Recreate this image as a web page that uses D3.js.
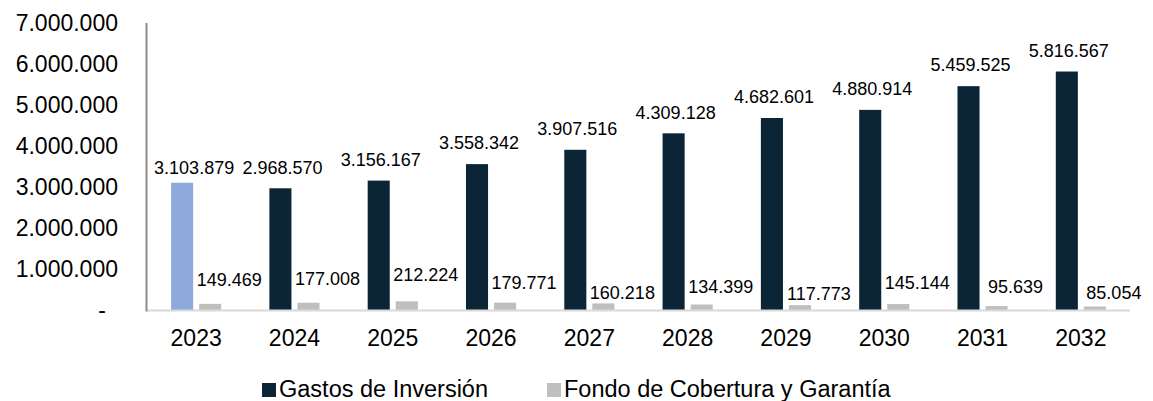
<!DOCTYPE html>
<html>
<head>
<meta charset="utf-8">
<script src="https://cdn.jsdelivr.net/npm/d3@7"></script>
<style>
  html, body { margin: 0; padding: 0; background: #fff; }
  svg { display: block; font-family: "Liberation Sans", Arial, sans-serif; }
</style>
</head>
<body>
<svg id="chart" width="1153" height="401"></svg>
<script>
// Years on the x axis
const years = ["2023", "2024", "2025", "2026", "2027", "2028", "2029", "2030", "2031", "2032"];
// Series values
const gastosInversion = [3103879, 2968570, 3156167, 3558342, 3907516, 4309128, 4682601, 4880914, 5459525, 5816567];
const fondoCobertura = [149469, 177008, 212224, 179771, 160218, 134399, 117773, 145144, 95639, 85054];
// Series names
const seriesNames = ["Gastos de Inversión", "Fondo de Cobertura y Garantía"];
// Y axis ticks
const yTicks = [0, 1000000, 2000000, 3000000, 4000000, 5000000, 6000000, 7000000];

const colors = { dark: "#0b2537", highlight: "#8eaadb", gray: "#bfbfbf" };

const svg = d3.select("#chart");
const plot = { left: 147, right: 1130, top: 23, bottom: 310 };

const fmt = v => v === 0 ? "-" : d3.format(",")(v).replace(/,/g, ".");

const x0 = d3.scaleBand().domain(years).range([plot.left, plot.right])
  .paddingInner(0.49).paddingOuter(0.245);
const x1 = d3.scaleBand().domain(seriesNames).range([0, x0.bandwidth()]).paddingInner(0.214);
const y = d3.scaleLinear().domain([0, 7000000]).range([plot.bottom, plot.top]);

// Y axis tick labels
const yAxis = d3.axisLeft(y).tickValues(yTicks).tickFormat(fmt).tickSize(0).tickPadding(0);
const gy = svg.append("g").attr("transform", `translate(118,0)`).call(yAxis);
gy.select(".domain").remove();
gy.selectAll("text")
  .attr("font-size", 23).attr("fill", "#000")
  .attr("font-family", "Liberation Sans, Arial, sans-serif")
  .attr("dx", d => d === 0 ? -12 : 0);

// X axis year labels
const xAxis = d3.axisBottom(x0).tickSize(0).tickPadding(0);
const gx = svg.append("g").attr("transform", `translate(0,338)`).call(xAxis);
gx.select(".domain").remove();
gx.selectAll("text")
  .attr("font-size", 23).attr("fill", "#000").attr("dy", "0.35em")
  .attr("font-family", "Liberation Sans, Arial, sans-serif");

const rows = years.map((yr, i) => ({ year: yr, i, g: gastosInversion[i], f: fondoCobertura[i] }));

const groups = svg.append("g").selectAll("g").data(rows).join("g")
  .attr("transform", d => `translate(${x0(d.year)},0)`);

// Gastos de Inversión bars (first year highlighted)
groups.append("rect")
  .attr("x", x1(seriesNames[0]))
  .attr("width", x1.bandwidth())
  .attr("y", d => y(d.g))
  .attr("height", d => y(0) - y(d.g))
  .attr("fill", d => d.i === 0 ? colors.highlight : colors.dark);

// Fondo de Cobertura y Garantía bars
groups.append("rect")
  .attr("x", x1(seriesNames[1]))
  .attr("width", x1.bandwidth())
  .attr("y", d => y(d.f))
  .attr("height", d => y(0) - y(d.f))
  .attr("fill", colors.gray);

// Axis lines
svg.append("line").attr("x1", plot.left).attr("x2", plot.right)
  .attr("y1", plot.bottom + 0.5).attr("y2", plot.bottom + 0.5)
  .attr("stroke", "#d9d9d9").attr("stroke-width", 2);
svg.append("line").attr("x1", plot.left - 0.5).attr("x2", plot.left - 0.5)
  .attr("y1", plot.top).attr("y2", plot.bottom + 1.5)
  .attr("stroke", "#8c8c8c").attr("stroke-width", 2);

// Value labels; a few are shifted to keep clear of neighbours
const darkShift = { "2023": [10, 6] };
const grayShift = { "2023": [0, -3], "2024": [0, -3], "2025": [0, -6], "2026": [0, 1], "2027": [0, 10],
  "2028": [0, 3], "2029": [0, 10], "2030": [0, 0], "2031": [0, 2], "2032": [0, 7] };

groups.append("text")
  .attr("x", d => x1(seriesNames[0]) + x1.bandwidth() / 2 + 2 + (darkShift[d.year] ? darkShift[d.year][0] : 0))
  .attr("y", d => y(d.g) - 21 + (darkShift[d.year] ? darkShift[d.year][1] : 0))
  .attr("dy", "0.35em")
  .attr("text-anchor", "middle")
  .attr("font-size", 18).attr("fill", "#000")
  .text(d => fmt(d.g));

groups.append("text")
  .attr("x", d => x1(seriesNames[1]) + x1.bandwidth() / 2 + 19 + (grayShift[d.year] ? grayShift[d.year][0] : 0))
  .attr("y", d => y(d.f) - 21 + (grayShift[d.year] ? grayShift[d.year][1] : 0))
  .attr("dy", "0.35em")
  .attr("text-anchor", "middle")
  .attr("font-size", 18).attr("fill", "#000")
  .text(d => fmt(d.f));

// Legend
const legendItems = [
  { name: seriesNames[0], color: colors.dark, x: 262 },
  { name: seriesNames[1], color: colors.gray, x: 547 }
];
const lg = svg.append("g").selectAll("g").data(legendItems).join("g")
  .attr("transform", d => `translate(${d.x},0)`);
lg.append("rect").attr("x", 0).attr("y", 383).attr("width", 14).attr("height", 14).attr("fill", d => d.color);
lg.append("text").attr("x", 17).attr("y", 389).attr("dy", "0.35em")
  .attr("font-size", 23.5).attr("fill", "#000").text(d => d.name);
</script>
</body>
</html>
